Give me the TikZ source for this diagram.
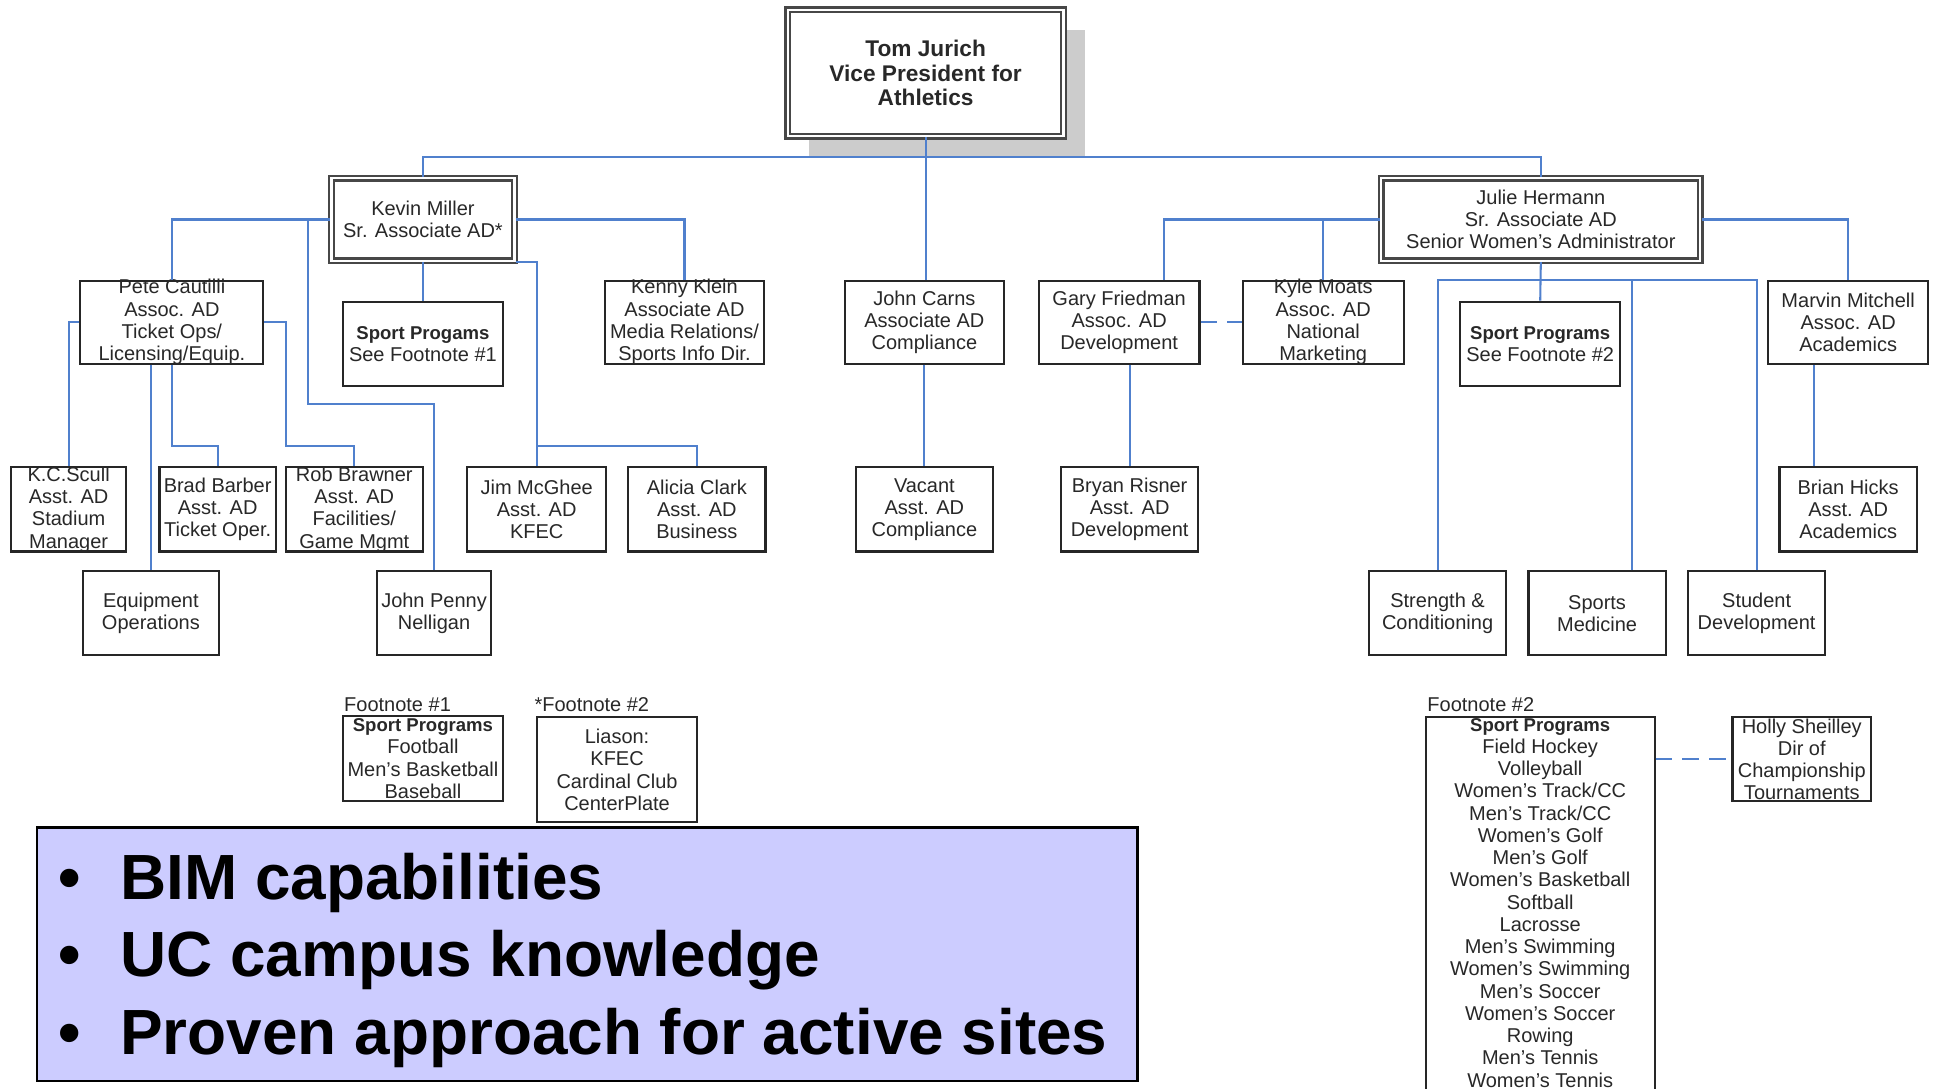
\documentclass[tikz,border=0pt]{standalone}
\usepackage{fontspec}
\setmainfont{Liberation Sans}
\usetikzlibrary{fit,calc}
\definecolor{linecol}{RGB}{80,128,205}
\definecolor{lav}{RGB}{204,204,255}
\definecolor{txtcol}{RGB}{40,40,40}
\newcommand\obox[7][]{%
  \path (#3,#4) coordinate (#2-nw) (#5,#6) coordinate (#2-se);
  \node[box,#1,fit=(#2-nw)(#2-se)] (#2) {};
  \node[txt] (#2-t) at (#2.center) {#7};}
\newcommand\bh[1]{{\bfseries\fontsize{9}{10.8}\selectfont #1}}
\begin{document}
\begin{tikzpicture}[x=0.6pt,y=-0.6pt,
  box/.style={draw=black!85,line width=1pt,fill=white,inner sep=0pt},
  dbox/.style={draw=black!72,line width=1.15pt,double=white,double distance=1.1pt},
  txt/.style={align=center,inner sep=0pt,text=txtcol,font=\fontsize{9.7}{10.8}\selectfont},
  ttxt/.style={txt,font=\bfseries\fontsize{11}{12}\selectfont},
  conn/.style={draw=linecol,line width=1pt},
  dashline/.style={conn,dash pattern=on 8pt off 5pt},
  lbl/.style={inner sep=0pt,text=txtcol,font=\fontsize{9.7}{10.8}\selectfont},
  bul/.style={inner sep=0pt,font=\bfseries\fontsize{31}{37}\selectfont}]
\useasboundingbox (0,0) rectangle (1568,880);
\clip (0,0) rectangle (1568,880);

% shadow of top box
\fill[black!20] (654,24) rectangle (877,127);

% top box
\path (637,8) coordinate (tom-nw) (860,110) coordinate (tom-se);
\node[box,dbox,fit=(tom-nw)(tom-se)] (tom) {};
\node[ttxt] (tom-t) at (tom.center) {Tom Jurich\\Vice President for\\Athletics};

\obox[dbox]{kevin}{268}{144}{416}{211}{Kevin Miller\\Sr. Associate AD*}
\obox[dbox]{julie}{1117}{144}{1375}{211}{Julie Hermann\\Sr. Associate AD\\Senior Women's Administrator}

\obox{pete}{65}{227}{213}{294}{Pete Cautilli\\Assoc. AD\\Ticket Ops/\\Licensing/Equip.}
\obox{sp1}{277}{244}{407}{312}{\bh{Sport Progams}\\See Footnote \#1}
\obox{kenny}{489}{227}{618}{294}{Kenny Klein\\Associate AD\\Media Relations/\\Sports Info Dir.}
\obox{carns}{683}{227}{812}{294}{John Carns\\Associate AD\\Compliance}
\obox{gary}{840}{227}{970}{294}{Gary Friedman\\Assoc. AD\\Development}
\obox{kyle}{1005}{227}{1135}{294}{Kyle Moats\\Assoc. AD\\National\\Marketing}
\obox{sp2}{1181}{244}{1310}{312}{\bh{Sport Programs}\\See Footnote \#2}
\obox{marvin}{1430}{227}{1559}{294}{Marvin Mitchell\\Assoc. AD\\Academics}

\obox{kc}{9}{378}{102}{446}{K.C.Scull\\Asst. AD\\Stadium\\Manager}
\obox{brad}{129}{378}{223}{446}{Brad Barber\\Asst. AD\\Ticket Oper.}
\obox{rob}{231}{378}{342}{446}{Rob Brawner\\Asst. AD\\Facilities/\\Game Mgmt}
\obox{jim}{378}{378}{490}{446}{Jim McGhee\\Asst. AD\\KFEC}
\obox{alicia}{508}{378}{619}{446}{Alicia Clark\\Asst. AD\\Business}
\obox{vacant}{692}{378}{803}{446}{Vacant\\Asst. AD\\Compliance}
\obox{bryan}{858}{378}{969}{446}{Bryan Risner\\Asst. AD\\Development}
\obox{hicks}{1439}{378}{1550}{446}{Brian Hicks\\Asst. AD\\Academics}

\obox{equip}{67}{462}{177}{530}{Equipment\\Operations}
\obox{penny}{305}{462}{397}{530}{John Penny\\Nelligan}
\obox{strength}{1107}{462}{1218}{530}{Strength \&\\Conditioning}
\obox{sportsmed}{1236}{462}{1347}{530}{Sports\\Medicine}
\obox{studdev}{1365}{462}{1476}{530}{Student\\Development}

% footnotes
\node[lbl,anchor=west] (fnl1) at (278,570) {Footnote \#1};
\node[lbl,anchor=west] (fnl2) at (432,570) {*Footnote \#2};
\node[lbl,anchor=west] (fnl3) at (1154,570) {Footnote \#2};
\obox{fn1}{277}{579}{407}{648}{\bh{Sport Programs}\\Football\\Men's Basketball\\Baseball}
\obox{fn2a}{434}{580}{564}{665}{Liason:\\KFEC\\Cardinal Club\\CenterPlate}
\obox{holly}{1401}{580}{1513}{648}{Holly Sheilley\\Dir of\\Championship\\Tournaments}
\path (1153,580) coordinate (fn2list-nw) (1338,905) coordinate (fn2list-se);
\node[box,fit=(fn2list-nw)(fn2list-se)] (fn2list) {};
\node[txt] (fn2list-t) at (1245.5,730) {\bh{Sport Programs}\\Field Hockey\\Volleyball\\Women's Track/CC\\Men's Track/CC\\Women's Golf\\Men's Golf\\Women's Basketball\\Softball\\Lacrosse\\Men's Swimming\\Women's Swimming\\Men's Soccer\\Women's Soccer\\Rowing\\Men's Tennis\\Women's Tennis};

% connectors
\coordinate (bus) at (748,127);
\draw[conn] (kevin.north) |- (bus) -| (julie.north);
\draw[conn] (tom.south) -- (tom.south |- carns.north);
\draw[conn] (carns.south) -- (vacant.north);

\draw[conn] (kevin.west) -| (pete.north);
\coordinate (kp1) at (249,177.5);
\coordinate (kp2) at (249,327);
\draw[conn] (kp1) -- (kp2) -| (penny.north);
\draw[conn] (kevin.south) -- (sp1.north);
\draw[conn] (kevin.east) -| (kenny.north);
\draw[conn] (kevin.south east) -| (jim.north);
\coordinate (kj) at (434,361);
\draw[conn] (kj) -| (alicia.north);

\draw[conn] (pete.west) -| (kc.north);
\draw[conn] (pete.south -| equip.north) -- (equip.north);
\coordinate (pb) at (139,361);
\draw[conn] (pete.south) -- (pb) -| (brad.north);
\coordinate (pr) at (231,361);
\draw[conn] (pete.east) -| (pr) -| (rob.north);

\coordinate (gtop) at ($(gary.north)+(36.5,0)$);
\draw[conn] (julie.west) -| (gtop);
\draw[conn] (kyle.north |- julie.west) -- (kyle.north);
\draw[conn] (julie.east) -| (marvin.north);
\draw[conn] (julie.south) -- (sp2.north);
\coordinate (jb) at (1246,226.5);
\draw[conn] (strength.north) |- (jb) -| (studdev.north);
\coordinate (sm) at ($(sportsmed.north)+(28.5,0)$);
\draw[conn] (sm) |- (jb);
\draw[conn] (bryan.north |- gary.south) -- (bryan.north);
\coordinate (hk) at ($(hicks.north)+(-27.5,0)$);
\draw[conn] (hk) -- (hk |- marvin.south);

\draw[dashline] (gary.east) -- (kyle.west);
\draw[dashline] (holly.west -| fn2list.east) -- (holly.west);

% bullet panel
\path (30,669) coordinate (panel-nw) (920,874) coordinate (panel-se);
\node[draw=black,line width=1.2pt,fill=lav,inner sep=0pt,fit=(panel-nw)(panel-se)] (panel) {};
\node[bul,anchor=base west] (b1) at (47,727) {•};
\node[bul,anchor=base west] (t1) at (97,727) {BIM capabilities};
\node[bul,anchor=base west] (b2) at (47,790) {•};
\node[bul,anchor=base west] (t2) at (97,790) {UC campus knowledge};
\node[bul,anchor=base west] (b3) at (47,853) {•};
\node[bul,anchor=base west] (t3) at (97,853) {Proven approach for active sites};
\end{tikzpicture}
\end{document}
